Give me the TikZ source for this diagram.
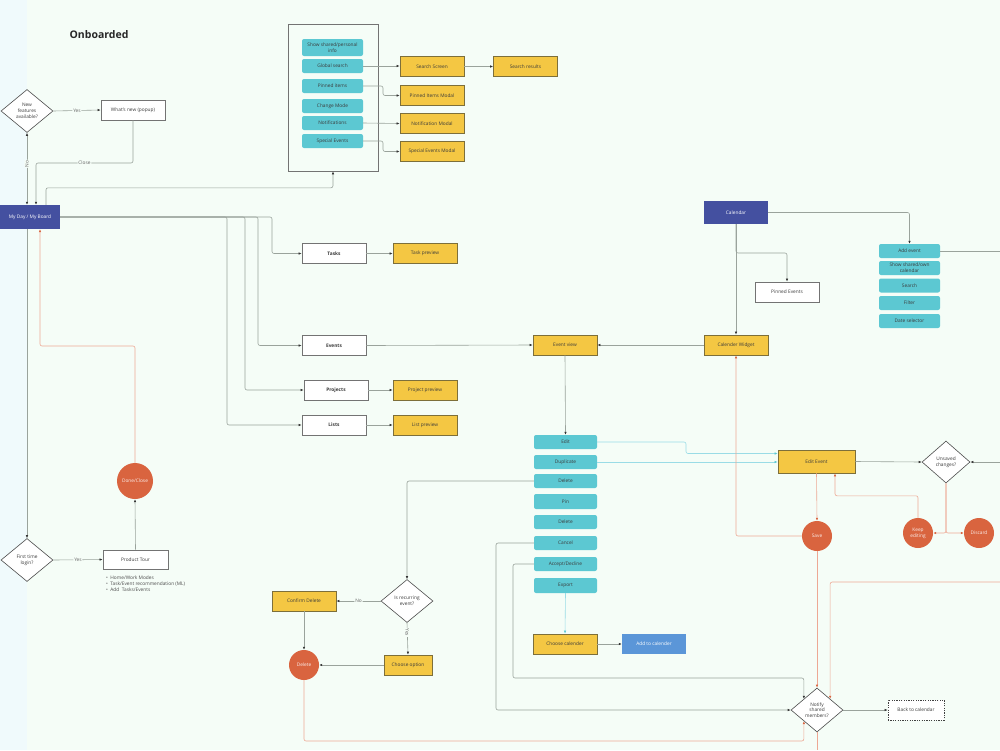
\documentclass[tikz,border=0pt]{standalone}
\usepackage{fontspec}
\setmainfont{Open Sans}
\usetikzlibrary{arrows.meta,shapes.geometric}
\definecolor{bgm}{HTML}{F5FDF7}
\definecolor{bgl}{HTML}{F0FAFC}
\definecolor{tealc}{HTML}{5CC8D2}
\definecolor{yel}{HTML}{F4C743}
\definecolor{yelb}{HTML}{7D6F3A}
\definecolor{navy}{HTML}{4450A0}
\definecolor{lblue}{HTML}{5B96D8}
\definecolor{redc}{HTML}{D9643F}
\definecolor{redl}{HTML}{EDA894}
\definecolor{lineg}{HTML}{9AA39C}
\definecolor{tealine}{HTML}{9ADCE6}
\definecolor{txt}{HTML}{3A3A3A}
\begin{document}
\begin{tikzpicture}[x=1pt,y=-1pt,
  base/.style={font=\fontsize{4.8}{5.8}\selectfont, inner sep=0pt, align=center, text=txt},
  tealbox/.style={base, fill=tealc, rounded corners=2pt, minimum width=61pt, minimum height=14pt},
  ybox/.style={base, fill=yel, draw=yelb, line width=0.7pt, minimum width=64pt, minimum height=20pt},
  wbox/.style={base, fill=white, draw=black!55, line width=0.7pt, minimum width=64pt, minimum height=20pt},
  bbox/.style={base, fill=navy, text=white, minimum width=64pt, minimum height=23pt},
  dia/.style={base, diamond, draw=black!70, fill=white, line width=0.6pt, minimum width=52pt, minimum height=43pt},
  circ/.style={base, circle, fill=redc, text=white!90!redc, minimum size=30pt},
  gline/.style={draw=lineg, line width=0.6pt, rounded corners=2pt, -{Latex[length=3pt,width=2.5pt,black!80]}},
  gplain/.style={draw=lineg, line width=0.6pt, rounded corners=2pt},
  rline/.style={draw=redl, line width=0.6pt, rounded corners=2pt, -{Latex[length=3pt,width=2.5pt,redc]}},
  rplain/.style={draw=redl, line width=0.6pt, rounded corners=2pt},
  tline/.style={draw=tealine, line width=0.6pt, rounded corners=2pt, -{Latex[length=3pt,width=2.5pt,tealc]}},
  lbl/.style={base, fill=bgm, inner sep=0.8pt, text=black!60}
]
% background
\fill[bgm] (0,0) rectangle (1000,750);
\fill[bgl] (0,0) rectangle (27,750);
\useasboundingbox (0,0) rectangle (1000,750);

\node[font=\bfseries\fontsize{10.5}{12}\selectfont, text=black!85] (title) at (99,35) {Onboarded};

% left column
\node[dia] (nf) at (27,111) {New\\features\\available?};
\node[wbox] (wn) at (133,110) {What's new (popup)};
\node[bbox, minimum width=60pt, minimum height=24pt] (md) at (30,217) {My Day / My Board};
\node[dia] (ft) at (27,560) {First time\\login?};
\node[wbox, minimum width=65pt, minimum height=19pt] (pt) at (135.5,559.5) {Product Tour};
\node[circ, minimum size=36pt] (done) at (135,481) {Done/Close};
\node[base, anchor=north west, align=left, text=black!70] (bul) at (106,576) {•\enspace Home/Work Modes\\•\enspace Task/Event recommendation (ML)\\•\enspace Add\ \ Tasks/Events};

% top panel
\node[draw=black!55, line width=0.7pt, minimum width=90pt, minimum height=147pt, inner sep=0pt] (panel) at (333,97.5) {};
\node[tealbox, minimum height=17pt] (sh) at (332.5,47.5) {Show shared/personal\\info};
\node[tealbox] (gs) at (332.5,66) {Global search};
\node[tealbox] (pi) at (332.5,86) {Pinned items};
\node[tealbox] (cm) at (332.5,106) {Change Mode};
\node[tealbox] (no) at (332.5,123) {Notifications};
\node[tealbox] (se) at (332.5,141) {Special Events};
\node[ybox] (ss) at (432,66.5) {Search Screen};
\node[ybox] (sr) at (525.5,66.5) {Search results};
\node[ybox] (pim) at (432,95.5) {Pinned Items Modal};
\node[ybox] (nom) at (432,123.5) {Notification Modal};
\node[ybox] (sem) at (432,151.5) {Special Events Modal};

% middle boxes
\node[wbox, font=\bfseries\fontsize{4.8}{5.8}\selectfont] (tasks) at (334,253.5) {Tasks};
\node[wbox, font=\bfseries\fontsize{4.8}{5.8}\selectfont] (events) at (334,345.5) {Events};
\node[wbox, font=\bfseries\fontsize{4.8}{5.8}\selectfont] (projects) at (336,390) {Projects};
\node[wbox, font=\bfseries\fontsize{4.8}{5.8}\selectfont] (lists) at (334,425) {Lists};
\node[ybox] (taskp) at (425,253.5) {Task preview};
\node[ybox] (projp) at (425,390) {Project preview};
\node[ybox] (listp) at (425,425) {List preview};
\node[ybox] (ev) at (565,345) {Event view};

% calendar
\node[bbox] (cal) at (736,212.5) {Calendar};
\node[wbox] (pinned) at (787,292) {Pinned Events};
\node[ybox] (calw) at (736,345) {Calender Widget};
\node[tealbox] (addev) at (909.5,251) {Add event};
\node[tealbox] (shc) at (909.5,268) {Show shared/own\\calendar};
\node[tealbox] (srch) at (909.5,285.5) {Search};
\node[tealbox] (filt) at (909.5,303) {Filter};
\node[tealbox] (dsel) at (909.5,321) {Date selector};

% event actions
\node[tealbox, minimum width=63pt] (edit) at (565.5,442) {Edit};
\node[tealbox, minimum width=63pt] (dup) at (565.5,462) {Duplicate};
\node[tealbox, minimum width=63pt] (del1) at (565.5,481) {Delete};
\node[tealbox, minimum width=63pt, minimum height=15pt] (pin) at (565.5,501.5) {Pin};
\node[tealbox, minimum width=63pt] (del2) at (565.5,522) {Delete};
\node[tealbox, minimum width=63pt] (canc) at (565.5,543) {Cancel};
\node[tealbox, minimum width=63pt] (acc) at (565.5,564) {Accept/Decline};
\node[tealbox, minimum width=63pt, minimum height=15pt] (exp) at (565.5,585.5) {Export};
\node[ybox] (chcal) at (565,644) {Choose calender};
\node[base, fill=lblue, text=white, minimum width=64pt, minimum height=20pt] (addcal) at (654,644) {Add to calender};

\node[ybox, minimum width=77pt, minimum height=23pt] (ee) at (816.5,461.5) {Edit Event};
\node[dia, minimum width=48pt, minimum height=42pt] (us) at (946,462) {Unsaved\\changes?};
\node[circ] (keep) at (918,533) {Keep\\editing};
\node[circ] (disc) at (979,533) {Discard};
\node[circ] (save) at (817,536) {Save};
\node[dia, minimum height=44pt] (nt) at (817,710) {Notify\\shared\\members?};
\node[base, draw=black!75, dashed, dash pattern=on 1.2pt off 1.2pt, line width=0.7pt, fill=white, minimum width=56pt, minimum height=20pt] (back) at (916,710) {Back to calendar};

\node[dia] (rec) at (407,601) {Is recurring\\event?};
\node[ybox] (cd) at (304,601) {Confirm Delete};
\node[ybox, minimum width=48pt] (co) at (408,665) {Choose option};
\node[circ] (delc) at (304,665) {Delete};

% free ends
\coordinate (rA) at (1000,251);
\coordinate (rU) at (1000,462);
\coordinate (rR) at (1000,582);
\coordinate (bN) at (817,750);

% connectors left
\draw[gline] (nf.east) -- node[lbl]{Yes} (wn.west);
\draw[gline] (wn.south) -- (wn.south |- 0,163) -- node[lbl]{Close} ([xshift=6pt]md.north |- 0,163) -- ([xshift=6pt]md.north);
\draw[gplain, {Latex[length=3pt,width=2.5pt,black!80]}-{Latex[length=3pt,width=2.5pt,black!80]}] (nf.south) -- node[lbl, rotate=90, pos=0.43]{No} (nf.south |- md.north);
\draw[gline] ([xshift=16pt]md.north) -- ++(0,-17) -| (panel.south);
\draw[gline] (nf.south |- md.south) -- (ft.north);
\draw[gline] (ft.east) -- node[lbl]{Yes} (pt.west);
\draw[gline] (pt.north) -- (done.south);
\draw[rline] (done.north) |- ([xshift=10pt]md.south |- 0,346) -- ([xshift=10pt]md.south);

% panel connectors
\draw[gline] (gs.east) -- (gs.east -| ss.west);
\draw[gline] (pi.east) -- (383,86) |- (pim.west);
\draw[gline] (no.east) -- (nom.west);
\draw[gline] (se.east) -- (383,141) |- (sem.west);
\draw[gline] (ss.east) -- (sr.west);

% my day branches
\draw[gline] (md.east) -- (272,217) |- (tasks.west);
\draw[gline] (md.east) -- (258,217) |- (events.west);
\draw[gline] (md.east) -- (245,217) |- (projects.west);
\draw[gline] (md.east) -- (227,217) |- (lists.west);
\draw[gline] (tasks.east) -- (taskp.west);
\draw[gline] (projects.east) -- (projp.west);
\draw[gline] (lists.east) -- (listp.west);
\draw[gline] (events.east) -- (ev.west);

% calendar
\draw[gline] (cal.east) -| (addev.north);
\draw[gline] (cal.south) -- (calw.north);
\draw[gline] (cal.south) -- (736,253) -| (pinned.north);
\draw[gline] (calw.west) -- (ev.east);
\draw[gplain] (addev.east) -- (rA);
\draw[gline] (ev.south) -- (edit.north);

% edit event
\draw[tline] (edit.east) -- (686,442) |- ([yshift=8pt]ee.west);
\draw[tline] (dup.east) -- (dup.east -| ee.west);
\draw[gline] (ee.east) -- (us.west);
\draw[gline] (rU) -- (us.east);
\draw[rline] (us.south) |- (keep.east);
\draw[rline] (us.south) |- (disc.west);
\draw[rline] (keep.north) -- ++(0,-22) -| ([xshift=18.5pt]ee.south);
\draw[rline] (ee.south) -- (save.north);
\draw[rline] (save.west) -| (calw.south);
\draw[rline] (save.south) -- (nt.north);
\draw[rline] (rR) -| (nt.north east);
\draw[rplain] (nt.south) -- (bN);
\draw[gline] (nt.east) -- (back.west);

% delete flow
\draw[gline] (del1.west) -| (rec.north);
\draw[gline] (rec.west) -- node[lbl]{No} (cd.east);
\draw[gline] (rec.south) -- node[lbl, rotate=-90, pos=0.3]{Yes} (co.north);
\draw[gline] (co.west) -- (delc.east);
\draw[gline] (cd.south) -- (delc.north);
\draw[rline] (delc.south) -- (304,741) -| (nt.south west);

% cancel / accept
\draw[gline] (canc.west) -- (496,543) |- (nt.west);
\draw[gline] (acc.west) -- (513,564) -- (513,678) -| (nt.north west);

% export
\draw[tline] (exp.south) -- (chcal.north);
\draw[gline] (chcal.east) -- (addcal.west);
\end{tikzpicture}
\end{document}
